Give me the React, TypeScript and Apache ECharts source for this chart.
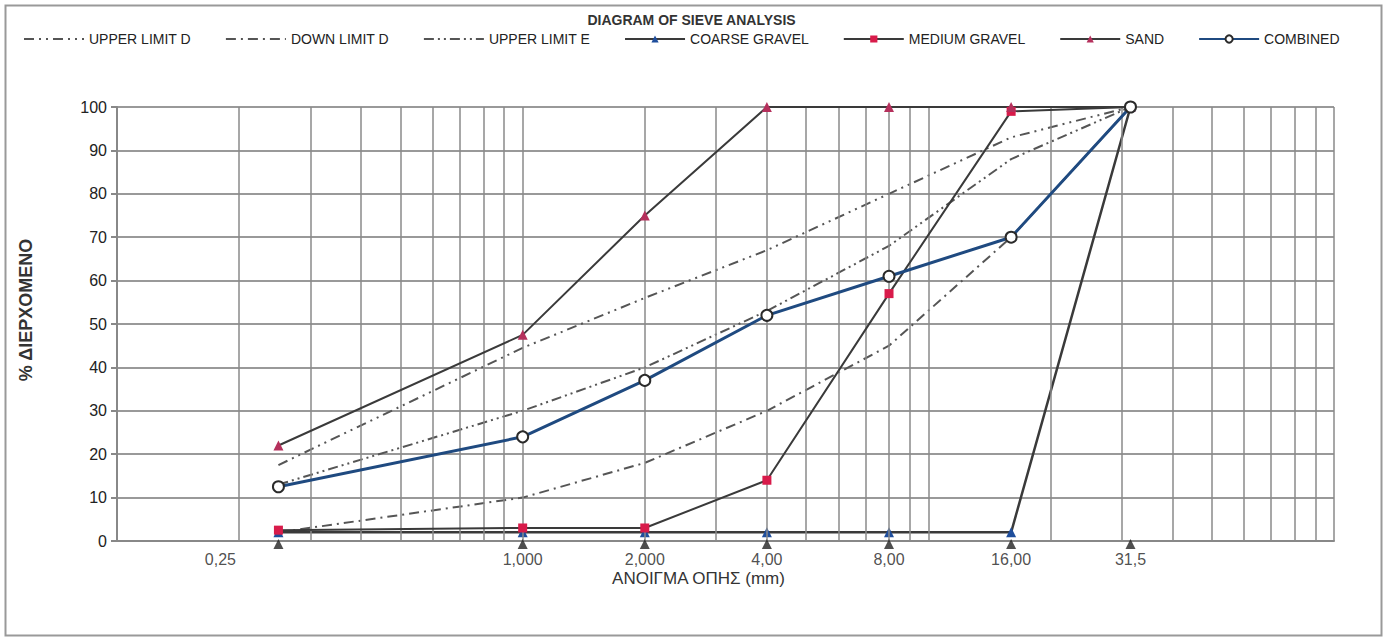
import React, { useEffect, useRef } from "react";
import * as echarts from "echarts";

// ---- data ----
const sieveSizes = [0.25, 1, 2, 4, 8, 16, 31.5];
const xTickLabels = ["0,25", "1,000", "2,000", "4,00", "8,00", "16,00", "31,5"];
const upperLimitD = [17.5, 44.5, 56, 67, 80, 93, 100];
const downLimitD = [2, 10, 18, 30, 45, 70, 100];
const upperLimitE = [13, 30, 40, 53, 68, 88, 100];
const coarseGravel = [2, 2, 2, 2, 2, 2, 100];
const mediumGravel = [2.5, 3, 3, 14, 57, 99, 100];
const sand = [22, 47.5, 75, 100, 100, 100, 100];
const combined = [12.5, 24, 37, 52, 61, 70, 100];
const baseline = [0, 0, 0, 0, 0, 0, 0];
const verticalGrid = [
  0.2, 0.3, 0.4, 0.5, 0.6, 0.7, 0.8, 0.9, 1,
  2, 3, 4, 5, 6, 7, 8, 9, 10,
  20, 30, 40, 50, 60, 70, 80, 90, 100,
];
const legendNames = [
  "UPPER LIMIT D",
  "DOWN LIMIT D",
  "UPPER LIMIT E",
  "COARSE GRAVEL",
  "MEDIUM GRAVEL",
  "SAND",
  "COMBINED",
];
const lineOnlyLegend = ["UPPER LIMIT D", "DOWN LIMIT D", "UPPER LIMIT E"];

const FONT = "Arial, 'Liberation Sans', sans-serif";

const pairs = (ys: number[]) => sieveSizes.map((x, i) => [x, ys[i]]);

export default function App() {
  const ref = useRef<HTMLDivElement>(null);
  useEffect(() => {
    if (!ref.current) return;
    const chart = echarts.init(ref.current, null, { renderer: "svg" });
    const limitStyle = (type: number[]) => ({ color: "#555", width: 2, type });
    const option: any = {
      animation: false,
      backgroundColor: "#fff",
      textStyle: { fontFamily: FONT },
      title: {
        text: "DIAGRAM OF SIEVE ANALYSIS",
        left: "center",
        top: 8,
        textStyle: { fontSize: 14, fontWeight: "bold", color: "#333", fontFamily: FONT },
      },
      legend: {
        top: 27,
        left: 18,
        itemWidth: 60,
        itemHeight: 9,
        itemGap: 34,
        textStyle: { fontSize: 14, color: "#222", fontFamily: FONT },
        data: legendNames.map((n) =>
          lineOnlyLegend.includes(n)
            ? { name: n, itemStyle: { opacity: 0 } }
            : { name: n }
        ),
      },
      graphic: [
        {
          type: "rect",
          left: 3,
          top: 3,
          shape: { width: 1376, height: 630 },
          style: { fill: "none", stroke: "#999", lineWidth: 2 },
          silent: true,
        },
      ],
      grid: { left: 117, right: 49, top: 107, bottom: 96 },
      xAxis: {
        type: "log",
        logBase: 10,
        min: 0.1,
        max: 100,
        axisLabel: { show: false },
        axisTick: { show: false },
        splitLine: { show: false },
        axisLine: { lineStyle: { color: "#888", width: 2 } },
        name: "ΑΝΟΙΓΜΑ ΟΠΗΣ (mm)",
        nameLocation: "middle",
        nameGap: 29,
        nameTextStyle: { fontSize: 17, color: "#333", padding: [0, 54, 0, 0], fontFamily: FONT },
      },
      yAxis: {
        type: "value",
        min: 0,
        max: 100,
        interval: 10,
        axisLine: { show: true, lineStyle: { color: "#888", width: 2 } },
        axisTick: { show: true, length: 6, lineStyle: { color: "#888", width: 2 } },
        axisLabel: { fontSize: 16, color: "#222", margin: 10, fontFamily: FONT },
        splitLine: { lineStyle: { color: "#999", width: 2 } },
        name: "% ΔΙΕΡΧΟΜΕΝΟ",
        nameLocation: "middle",
        nameGap: 82,
        nameTextStyle: {
          fontSize: 18,
          fontWeight: "bold",
          color: "#333",
          fontFamily: FONT,
          padding: [0, 0, 0, 28],
        },
      },
      series: [
        {
          name: "grid",
          type: "scatter",
          data: [],
          z: 1,
          silent: true,
          markLine: {
            silent: true,
            symbol: ["none", "none"],
            label: { show: false },
            lineStyle: { color: "#8a8a8a", width: 1.5, type: "solid" },
            data: verticalGrid.map((v) => ({ xAxis: v })),
          },
        },
        {
          name: "UPPER LIMIT D",
          type: "line",
          data: pairs(upperLimitD),
          symbol: "none",
          lineStyle: limitStyle([10, 5, 2, 5, 2, 5]),
          itemStyle: { color: "#555" },
          z: 3,
        },
        {
          name: "DOWN LIMIT D",
          type: "line",
          data: pairs(downLimitD),
          symbol: "none",
          lineStyle: limitStyle([10, 5, 2, 5]),
          itemStyle: { color: "#555" },
          z: 3,
        },
        {
          name: "UPPER LIMIT E",
          type: "line",
          data: pairs(upperLimitE),
          symbol: "none",
          lineStyle: limitStyle([10, 4, 2, 4, 2, 4]),
          itemStyle: { color: "#555" },
          z: 3,
        },
        {
          name: "COARSE GRAVEL",
          type: "line",
          data: pairs(coarseGravel),
          symbol: "triangle",
          symbolSize: 10,
          lineStyle: { color: "#3a3a3a", width: 2.5 },
          itemStyle: { color: "#1f4e9c" },
          z: 4,
        },
        {
          name: "MEDIUM GRAVEL",
          type: "line",
          data: pairs(mediumGravel),
          symbol: "rect",
          symbolSize: 9,
          lineStyle: { color: "#3a3a3a", width: 2 },
          itemStyle: { color: "#d81b4a" },
          z: 5,
        },
        {
          name: "SAND",
          type: "line",
          data: pairs(sand),
          symbol: "triangle",
          symbolSize: 10,
          lineStyle: { color: "#3a3a3a", width: 2 },
          itemStyle: { color: "#b5305c" },
          z: 5,
        },
        {
          name: "COMBINED",
          type: "line",
          data: pairs(combined),
          symbol: "circle",
          symbolSize: 11,
          lineStyle: { color: "#1f4a80", width: 3 },
          itemStyle: { color: "#fff", borderColor: "#2a2a2a", borderWidth: 2 },
          z: 6,
        },
        {
          name: "baseline",
          type: "scatter",
          data: pairs(baseline),
          symbol: "triangle",
          symbolSize: 10,
          symbolOffset: [0, 3],
          itemStyle: { color: "#222" },
          z: 7,
          silent: true,
        },
        {
          name: "xlabels",
          type: "scatter",
          data: sieveSizes.map((x, i) => ({
            value: [x, 0],
            label: i === 0 ? { offset: [-58, 0] } : undefined,
          })),
          symbolSize: 1,
          itemStyle: { color: "rgba(0,0,0,0)" },
          silent: true,
          label: {
            show: true,
            position: "bottom",
            distance: 10,
            fontSize: 16,
            color: "#222",
            fontFamily: FONT,
            formatter: (p: any) => xTickLabels[p.dataIndex],
          },
          z: 8,
        },
      ],
    };
    chart.setOption(option);
    return () => chart.dispose();
  }, []);
  return (
    <div
      ref={ref}
      style={{ position: "fixed", left: 0, top: 0, width: 1383, height: 637, background: "#fff" }}
    />
  );
}
